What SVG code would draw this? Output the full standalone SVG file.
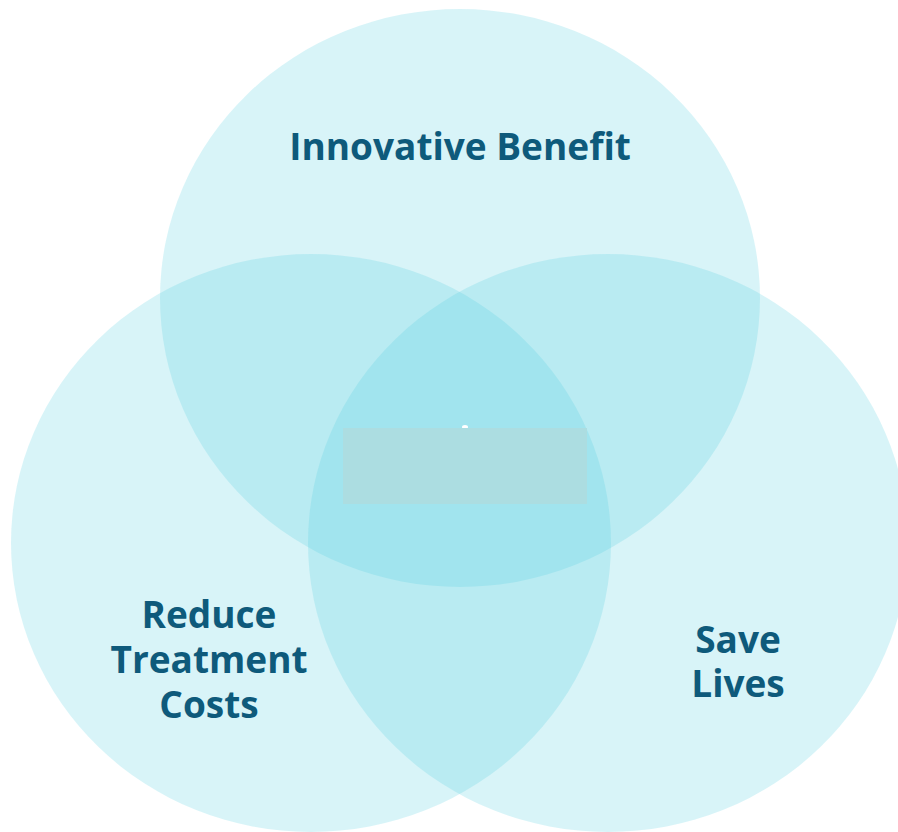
<svg xmlns="http://www.w3.org/2000/svg" width="898" height="832" viewBox="0 0 898 832">
<style>
.circ{fill:#4ccfe0;fill-opacity:0.22}
.lbl{font-family:"Open Sans","Noto Sans","Liberation Sans",sans-serif;font-weight:700;font-size:37px;fill:#0e5a7b;text-anchor:middle}
</style>
<rect width="898" height="832" fill="#ffffff"/>
<g id="innovative-benefit">
<ellipse class="circ" cx="460" cy="298" rx="300" ry="289"/>
<text class="lbl" x="460" y="160">Innovative Benefit</text>
</g>
<g id="reduce-treatment-costs">
<ellipse class="circ" cx="311" cy="543" rx="300" ry="289"/>
<text class="lbl" x="209" y="628">Reduce</text>
<text class="lbl" x="209" y="673">Treatment</text>
<text class="lbl" x="209" y="718">Costs</text>
</g>
<g id="save-lives">
<ellipse class="circ" cx="608" cy="543" rx="300" ry="289"/>
<text class="lbl" x="738" y="653">Save</text>
<text class="lbl" x="738" y="697">Lives</text>
</g>
<g id="center">
<ellipse cx="465" cy="427" rx="3" ry="2" fill="#ffffff"/>
<rect x="343" y="428" width="244" height="76" fill="#acdde1"/>
</g>
<g id="connectors"/>
</svg>
